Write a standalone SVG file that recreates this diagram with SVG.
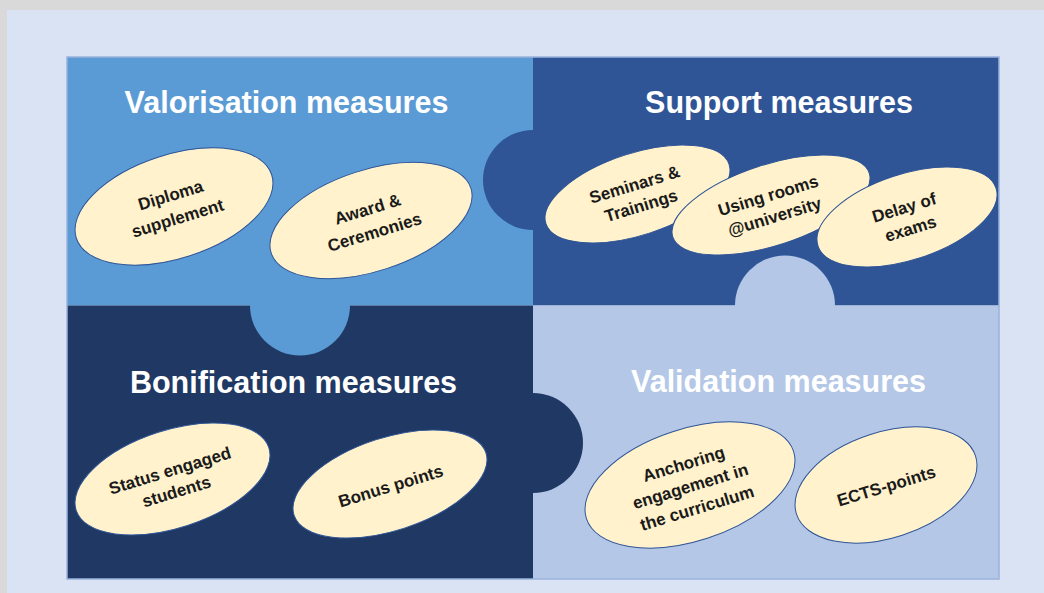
<svg xmlns="http://www.w3.org/2000/svg" width="1044" height="593" viewBox="0 0 1044 593">
<style>
.title{font-family:"Liberation Sans",Arial,sans-serif;font-weight:bold;font-size:30.5px;fill:#ffffff;text-anchor:middle}
.oval{fill:#fff2cc;stroke:#2f5597;stroke-width:1}
.lbl{font-family:"Liberation Sans",Arial,sans-serif;font-weight:bold;font-size:17px;fill:#1a1a1a;text-anchor:middle}
</style>
<rect x="0" y="0" width="1044" height="593" fill="#d9d9d9"/>
<rect x="7" y="10" width="1037" height="583" fill="#dae3f3"/>
<g id="quadrants">
  <rect id="q-valorisation" x="67" y="57" width="466" height="248.5" fill="#5b9bd5"/>
  <rect id="q-support" x="533" y="57" width="466" height="248.5" fill="#2f5597"/>
  <rect id="q-bonification" x="67" y="305.5" width="466" height="273.5" fill="#203864"/>
  <rect id="q-validation" x="533" y="305.5" width="466" height="273.5" fill="#b4c7e7"/>
  <circle cx="533" cy="180" r="50" fill="#2f5597"/>
  <circle cx="300" cy="305.5" r="50" fill="#5b9bd5"/>
  <circle cx="533" cy="443" r="50" fill="#203864"/>
  <circle cx="785" cy="305.5" r="50" fill="#b4c7e7"/>
  <rect x="67" y="57" width="932" height="522" fill="none" stroke="#9ab3dd" stroke-width="1.5"/>
</g>
<g id="connectors"></g>
<g id="titles">
  <text class="title" x="286.5" y="113">Valorisation measures</text>
  <text class="title" x="779" y="113">Support measures</text>
  <text class="title" x="293.5" y="393">Bonification measures</text>
  <text class="title" x="778.5" y="392">Validation measures</text>
</g>
<g id="n-diploma" transform="translate(174,206.5)">
  <ellipse class="oval" rx="102.7" ry="51.7" transform="rotate(-18)"/>
  <text class="lbl" transform="rotate(-17)"><tspan x="0" y="-6">Diploma</tspan><tspan x="0" y="18">supplement</tspan></text>
</g>
<g id="n-award" transform="translate(371,220.5)">
  <ellipse class="oval" rx="105" ry="50.6" transform="rotate(-18)"/>
  <text class="lbl" transform="rotate(-17)"><tspan x="0" y="-6">Award &amp;</tspan><tspan x="0" y="18">Ceremonies</tspan></text>
</g>
<g id="n-seminars" transform="translate(637.5,194)">
  <ellipse class="oval" rx="96.3" ry="40.9" transform="rotate(-18)"/>
  <text class="lbl" transform="rotate(-17)"><tspan x="0" y="-4">Seminars &amp;</tspan><tspan x="0" y="18">Trainings</tspan></text>
</g>
<g id="n-rooms" transform="translate(771,205)">
  <ellipse class="oval" rx="103.3" ry="40.5" transform="rotate(-18)"/>
  <text class="lbl" transform="rotate(-17)"><tspan x="0" y="-4">Using rooms</tspan><tspan x="0" y="18">@university</tspan></text>
</g>
<g id="n-delay" transform="translate(907,217)">
  <ellipse class="oval" rx="93.6" ry="42.9" transform="rotate(-18)"/>
  <text class="lbl" transform="rotate(-17)"><tspan x="0" y="-4">Delay of</tspan><tspan x="0" y="18">exams</tspan></text>
</g>
<g id="n-status" transform="translate(172.5,479)">
  <ellipse class="oval" rx="101.3" ry="48.8" transform="rotate(-18)"/>
  <text class="lbl" transform="rotate(-17)"><tspan x="0" y="-3">Status engaged</tspan><tspan x="0" y="19">students</tspan></text>
</g>
<g id="n-bonus" transform="translate(390,484)">
  <ellipse class="oval" rx="100.9" ry="46.4" transform="rotate(-18)"/>
  <text class="lbl" transform="rotate(-17)" x="0" y="8">Bonus points</text>
</g>
<g id="n-anchoring" transform="translate(690,485)">
  <ellipse class="oval" rx="108.9" ry="56" transform="rotate(-18)"/>
  <text class="lbl" transform="rotate(-17)"><tspan x="0" y="-16">Anchoring</tspan><tspan x="0" y="7">engagement in</tspan><tspan x="0" y="30">the curriculum</tspan></text>
</g>
<g id="n-ects" transform="translate(886,485)">
  <ellipse class="oval" rx="94.1" ry="52.8" transform="rotate(-18)"/>
  <text class="lbl" transform="rotate(-17)" x="0" y="7">ECTS-points</text>
</g>
</svg>
